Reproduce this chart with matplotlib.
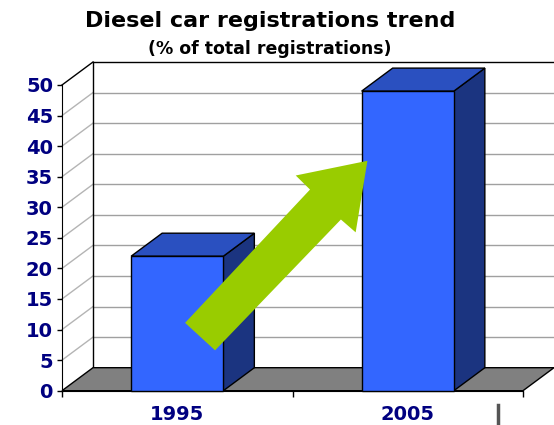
import matplotlib
matplotlib.use('Agg')
import matplotlib.pyplot as plt
from matplotlib.patches import Polygon
from matplotlib.lines import Line2D
from matplotlib.transforms import IdentityTransform

years = ['1995', '2005']
share = [22, 49]
yticks = list(range(0, 55, 5))

title = 'Diesel car registrations trend'
subtitle = '(% of total registrations)'

# green trend arrow, in (category, value) units
arrow_x = [0.534, 0.664, 1.210, 1.274, 1.325, 1.014, 1.076]
arrow_y = [11.1, 6.6, 28.0, 25.9, 37.6, 35.2, 32.9]

DX, DY = 31, 23      # depth of the 3d box, pixels
W = 0.4              # bar width
navy = '#000080'
front_c, top_c, side_c = '#3366FF', '#2A50C0', '#1B3480'

plt.rcParams['font.family'] = 'DejaVu Sans'
plt.rcParams['font.weight'] = 'bold'

fig = plt.figure(figsize=(5.54, 4.25), dpi=100)
ax = fig.add_axes([62/554, (425-390.7)/425, 461/554, (390.7-85)/425])
ax.set_xlim(0, 2)
ax.set_ylim(0, 50)
ax.patch.set_visible(False)
ident = IdentityTransform()


def pt(x, y, back=0.0):
    px, py = ax.transData.transform((x, y))
    return px + DX*back, py + DY*back


def face(pts, z, **kw):
    ax.add_patch(Polygon([pt(*q) for q in pts], closed=True, transform=ident,
                         clip_on=False, zorder=z, **kw))


def seg(p0, p1, z, **kw):
    ax.add_line(Line2D([p0[0], p1[0]], [p0[1], p1[1]], transform=ident,
                       clip_on=False, zorder=z, **kw))


# walls
face([(0, 0, 0), (0, 50, 0), (0, 50, 1), (0, 0, 1)], 0.5, fc='white', ec='none')
face([(0, 0, 1), (2, 0, 1), (2, 50, 1), (0, 50, 1)], 0.5, fc='white', ec='none')
for v in yticks[1:-1]:
    seg(pt(0, v, 1), pt(2, v, 1), 0.6, color='#a0a0a0', lw=1)
    seg(pt(0, v, 0), pt(0, v, 1), 0.6, color='#b4b4b4', lw=1)
seg(pt(0, 0, 1), pt(0, 50, 1), 0.7, color='black', lw=1)
seg(pt(0, 50, 1), pt(2, 50, 1), 0.7, color='black', lw=1)
seg(pt(0, 50, 0), pt(0, 50, 1), 0.7, color='black', lw=1)

# floor
face([(0, 0, 0), (2, 0, 0), (2, 0, 1), (0, 0, 1)], 0.8, fc='#808080', ec='black', lw=1)

# bars
for i, v in enumerate(share):
    c = i + 0.5
    l, r = c - W/2, c + W/2
    face([(r, 0, 0), (r, v, 0), (r, v, 1), (r, 0, 1)], 1, fc=side_c, ec='black', lw=1)
    face([(l, v, 0), (r, v, 0), (r, v, 1), (l, v, 1)], 1, fc=top_c, ec='black', lw=1)
ax.bar([i + 0.5 for i in range(len(share))], share, width=W, color=front_c,
       edgecolor='black', lw=1, zorder=2, clip_on=False)

# arrow
ax.add_patch(Polygon(list(zip(arrow_x, arrow_y)), closed=True, fc='#99CC00',
                     ec='none', zorder=3, clip_on=False))

# axes
for s in ['top', 'right']:
    ax.spines[s].set_visible(False)
ax.spines['left'].set_zorder(2.5)
ax.spines['bottom'].set_zorder(0.9)
ax.set_yticks(yticks)
ax.tick_params(axis='y', length=3.5, width=1, pad=3, labelsize=14, labelcolor=navy)
ax.set_xticks([0, 1, 2])
ax.set_xticklabels(['', '', ''])
ax.set_xticks([0.5, 1.5], minor=True)
ax.set_xticklabels(years, minor=True)
ax.tick_params(axis='x', which='major', length=4.5, width=1)
ax.tick_params(axis='x', which='minor', length=0, pad=10, labelsize=14, labelcolor=navy)

fig.text(270/554, 1 - 21/425, title, ha='center', va='center', fontsize=16, fontweight='bold')
fig.text(270/554, 1 - 49/425, subtitle, ha='center', va='center', fontsize=12.5, fontweight='bold')

# stray grey mark at the lower right
fig.add_artist(Line2D([498/554, 498/554], [1 - 405/425, 1 - 423/425], color='#555555',
                      lw=2.5, transform=fig.transFigure))

fig.savefig('out.png', dpi=100)
